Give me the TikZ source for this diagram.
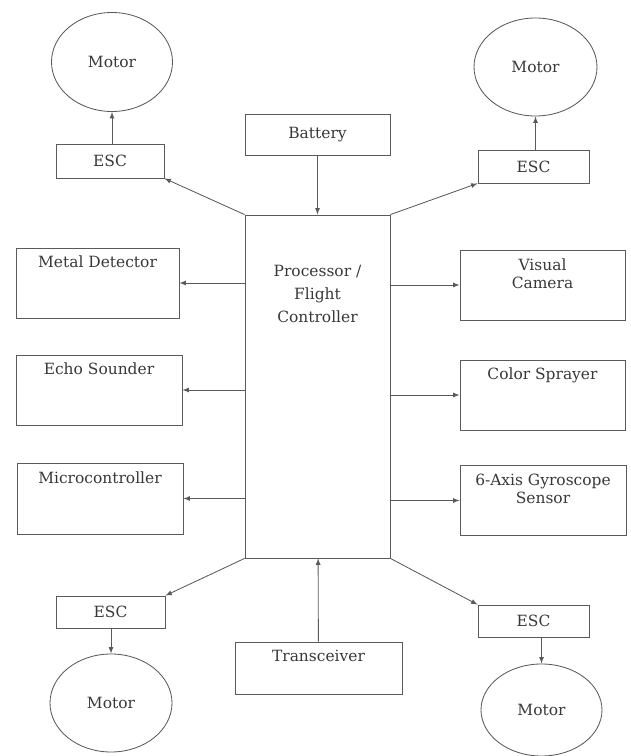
\documentclass[tikz,border=0pt]{standalone}
\usepackage{fontspec}
\setmainfont{DejaVu Serif}
\usetikzlibrary{shapes.geometric}
\definecolor{linegray}{HTML}{5A5A5A}
\definecolor{textgray}{HTML}{383838}
\tikzset{
  unit/.style={draw=linegray, line width=0.6pt, rectangle, text=textgray, font=\fontsize{11}{13}\selectfont, inner sep=0pt},
  topbox/.style={unit, align=center, text height=0.5cm, text depth=1.25cm},
  twobox/.style={unit, align=center, text height=0.96cm, text depth=0.79cm},
  motor/.style={draw=linegray, line width=0.6pt, ellipse, text=textgray, font=\fontsize{11}{13}\selectfont, inner sep=0pt},
  link/.style={draw=linegray, line width=0.6pt, -latex}
}
\begin{document}
\begin{tikzpicture}
    \useasboundingbox (0,0) rectangle (15.75,18.9);

    \node[unit, minimum width=3.625cm, minimum height=8.575cm, align=center, text height=2.7cm, text depth=5.875cm, font=\fontsize{11}{16.7}\selectfont] (FC) at (7.9375,9.2375) {Processor /\\Flight\\Controller};
    \node[unit, minimum width=3.625cm, minimum height=1.025cm] (BAT) at (7.9375,15.525) {Battery};
    \node[topbox, minimum width=4.175cm, minimum height=1.3cm, text depth=0.8cm] (TRX) at (7.9625,2.2) {Transceiver};

    \node[unit, minimum width=2.7cm, minimum height=0.85cm] (ESCA) at (2.75,14.875) {ESC};
    \node[unit, minimum width=2.775cm, minimum height=0.825cm] (ESCB) at (13.3375,14.7375) {ESC};
    \node[unit, minimum width=2.725cm, minimum height=0.8cm] (ESCC) at (2.7625,3.6) {ESC};
    \node[unit, minimum width=2.775cm, minimum height=0.8cm] (ESCD) at (13.3375,3.375) {ESC};

    \node[motor, minimum width=3.025cm, minimum height=2.475cm] (MA) at (2.8,17.35) {Motor};
    \node[motor, minimum width=3.075cm, minimum height=2.45cm] (MB) at (13.3875,17.225) {Motor};
    \node[motor, minimum width=3.05cm, minimum height=2.45cm] (MC) at (2.775,1.325) {Motor};
    \node[motor, minimum width=3.025cm, minimum height=2.3cm] (MD) at (13.5375,1.15) {Motor};

    \node[topbox, minimum width=4.075cm, minimum height=1.75cm] (MET) at (2.4375,11.825) {Metal Detector};
    \node[topbox, minimum width=4.15cm, minimum height=1.75cm] (ECH) at (2.475,9.15) {Echo Sounder};
    \node[topbox, minimum width=4.15cm, minimum height=1.775cm] (MCU) at (2.5,6.4375) {Microcontroller};

    \node[twobox, minimum width=4.125cm, minimum height=1.75cm] (CAM) at (13.5625,11.775) {Visual\\Camera};
    \node[topbox, minimum width=4.125cm, minimum height=1.75cm] (SPR) at (13.5625,9.025) {Color Sprayer};
    \node[twobox, minimum width=4.15cm, minimum height=1.725cm] (GYR) at (13.575,6.3875) {6-Axis Gyroscope\\Sensor};

    \draw[link] (BAT) -- (FC);
    \draw[link] (TRX) -- (FC);

    \draw[link] (FC.north west) -- (ESCA.south east);
    \draw[link] (FC.north east) -- (ESCB.south west);
    \draw[link] (FC.south west) -- (ESCC.north east);
    \draw[link] (FC.south east) -- (ESCD.north west);

    \draw[link] (MA.south |- ESCA.north) -- (MA.south);
    \draw[link] (MB.south |- ESCB.north) -- (MB.south);
    \draw[link] (MC.north |- ESCC.south) -- (MC.north);
    \draw[link] (MD.north |- ESCD.south) -- (MD.north);

    \draw[link] (MET.east -| FC.west) -- (MET.east);
    \draw[link] (ECH.east -| FC.west) -- (ECH.east);
    \draw[link] (MCU.east -| FC.west) -- (MCU.east);
    \draw[link] (CAM.west -| FC.east) -- (CAM.west);
    \draw[link] (SPR.west -| FC.east) -- (SPR.west);
    \draw[link] (GYR.west -| FC.east) -- (GYR.west);
\end{tikzpicture}
\end{document}
